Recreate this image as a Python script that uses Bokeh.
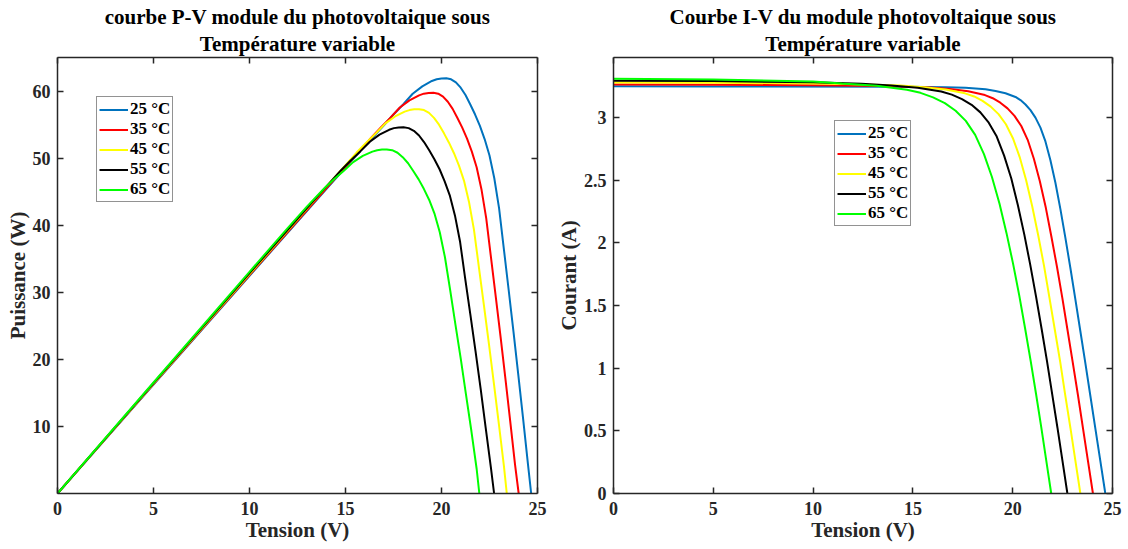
from bokeh.plotting import figure
from bokeh.models import (Legend, LegendItem, LinearAxis, FixedTicker, Range1d, Title,
                          CustomJSTickFormatter)
from bokeh.layouts import row
from bokeh.embed import file_html
from bokeh.resources import INLINE

labels = ["25 °C", "35 °C", "45 °C", "55 °C", "65 °C"]
colors = ["#0072BD", "#FF0000", "#FFFF00", "#000000", "#00FF00"]

# ---- P-V curves (Tension V, Puissance W) ----
pv_v_25 = [0, 5, 10, 14, 16, 17, 17.5, 18, 18.5, 19, 19.5, 19.75, 20, 20.25, 20.5, 20.75, 21, 21.25,
           21.5, 21.75, 22, 22.25, 22.5, 22.75, 23, 23.25, 23.5, 23.75, 24, 24.25, 24.5, 24.67]
pv_p_25 = [0, 16.24, 32.45, 45.4, 51.8, 54.9, 56.5, 58.0, 59.6, 60.7, 61.5, 61.75, 61.87, 61.9, 61.75,
           61.3, 60.5, 59.4, 58.0, 56.5, 54.8, 52.8, 50.4, 47.0, 42.5, 36.4, 30.3, 24.1, 17.7, 11.15, 4.45, 0]
pv_v_35 = [0, 5, 10, 14, 16.33, 16.83, 17.33, 17.83, 18.33, 18.83, 19.08, 19.33, 19.58, 19.83, 20.08,
           20.33, 20.58, 20.83, 21.08, 21.33, 21.58, 21.83, 22.08, 22.33, 22.58, 22.83, 23.08, 23.33,
           23.58, 23.83, 24.02]
pv_p_35 = [0, 16.3, 32.55, 45.5, 53.0, 54.55, 55.99, 57.54, 58.61, 59.36, 59.61, 59.72, 59.75, 59.61,
           59.17, 58.40, 57.34, 55.99, 54.54, 52.90, 50.97, 48.65, 45.37, 41.02, 35.13, 29.25, 23.26,
           17.08, 10.76, 4.30, 0]
pv_v_45 = [0, 5, 10, 14, 15.58, 16.08, 16.58, 17.08, 17.58, 18.08, 18.33, 18.58, 18.83, 19.09, 19.35,
           19.61, 19.87, 20.13, 20.39, 20.65, 20.91, 21.17, 21.43, 21.69, 21.95, 22.21, 22.47, 22.73,
           22.99, 23.25, 23.40]
pv_p_45 = [0, 16.4, 32.7, 45.75, 50.83, 52.31, 53.69, 55.18, 56.21, 56.93, 57.16, 57.27, 57.30, 57.16,
           56.74, 56.00, 54.98, 53.69, 52.30, 50.73, 48.88, 46.65, 43.51, 39.34, 33.69, 28.05, 22.31,
           16.38, 10.32, 4.12, 0]
pv_v_55 = [0, 5, 10, 13, 14, 14.77, 15.27, 15.77, 16.27, 16.77, 17.27, 17.52, 17.77, 18.02, 18.29, 18.56,
           18.83, 19.09, 19.36, 19.63, 19.90, 20.16, 20.43, 20.70, 20.97, 21.23, 21.50, 21.77, 22.04,
           22.30, 22.57, 22.74]
pv_p_55 = [0, 16.45, 32.85, 42.6, 45.75, 48.2, 49.65, 51.0, 52.45, 53.5, 54.22, 54.47, 54.57, 54.6,
           54.47, 54.07, 53.37, 52.39, 51.16, 49.84, 48.34, 46.57, 44.45, 41.46, 37.49, 32.10, 26.73,
           21.26, 15.61, 9.83, 3.93, 0]
pv_v_65 = [0, 5, 10, 12, 13, 13.9, 14.4, 14.9, 15.4, 15.9, 16.4, 16.65, 16.9, 17.15, 17.43, 17.71, 17.98,
           18.26, 18.53, 18.81, 19.08, 19.36, 19.63, 19.91, 20.18, 20.46, 20.73, 21.01, 21.28, 21.56,
           21.83, 21.97]
pv_p_65 = [0, 16.55, 33.05, 39.6, 42.8, 45.5, 46.84, 48.07, 49.40, 50.33, 50.97, 51.18, 51.27, 51.3,
           51.18, 50.80, 50.14, 49.23, 48.07, 46.83, 45.42, 43.76, 41.77, 38.95, 35.22, 30.16, 25.11,
           19.97, 14.67, 9.24, 3.69, 0]

# ---- I-V curves (Tension V, Courant A) ----
iv_v_25 = [0, 5, 14.64, 16.64, 17.64, 18.64, 19.14, 19.64, 20.14, 20.39, 20.64, 20.89, 21.14, 21.39,
           21.64, 21.89, 22.14, 22.39, 22.64, 22.89, 23.14, 23.39, 23.64, 23.89, 24.14, 24.39, 24.64]
iv_i_25 = [3.25, 3.249, 3.247, 3.243, 3.238, 3.226, 3.213, 3.195, 3.165, 3.14, 3.105, 3.06, 3.0, 2.92,
           2.81, 2.66, 2.48, 2.27, 2.04, 1.80, 1.55, 1.295, 1.04, 0.78, 0.52, 0.26, 0]
iv_v_35 = [0, 5, 10, 13.59, 15.86, 16.86, 17.77, 18.61, 19.00, 19.38, 19.74, 20.09, 20.43, 20.75, 21.06,
           21.36, 21.66, 21.94, 22.22, 22.49, 22.75, 23.01, 23.27, 23.52, 23.77, 24.02]
iv_i_35 = [3.265, 3.263, 3.259, 3.253, 3.241, 3.228, 3.210, 3.180, 3.155, 3.119, 3.074, 3.014, 2.933,
           2.823, 2.672, 2.492, 2.280, 2.049, 1.808, 1.557, 1.301, 1.045, 0.784, 0.522, 0.261, 0]
iv_v_45 = [0, 5, 10, 11.59, 14.37, 15.56, 16.64, 17.61, 18.07, 18.49, 18.90, 19.29, 19.66, 20.01, 20.35,
           20.67, 20.98, 21.28, 21.57, 21.84, 22.11, 22.38, 22.63, 22.89, 23.14, 23.39]
iv_i_45 = [3.28, 3.278, 3.273, 3.268, 3.256, 3.243, 3.224, 3.194, 3.169, 3.134, 3.088, 3.028, 2.947,
           2.836, 2.685, 2.503, 2.291, 2.059, 1.817, 1.564, 1.307, 1.050, 0.787, 0.525, 0.262, 0]
iv_v_55 = [0, 5, 10, 12.42, 13.91, 15.24, 16.42, 16.95, 17.46, 17.94, 18.38, 18.80, 19.20, 19.57, 19.93,
           20.26, 20.58, 20.88, 21.17, 21.45, 21.72, 21.98, 22.24, 22.49, 22.74]
iv_i_55 = [3.295, 3.292, 3.282, 3.271, 3.257, 3.239, 3.209, 3.184, 3.148, 3.102, 3.042, 2.960, 2.849,
           2.697, 2.514, 2.301, 2.068, 1.825, 1.571, 1.313, 1.054, 0.791, 0.527, 0.264, 0]
iv_v_65 = [0, 5, 10, 11.44, 13.18, 14.70, 15.38, 16.01, 16.60, 17.14, 17.65, 18.12, 18.56, 18.96, 19.34,
           19.69, 20.02, 20.33, 20.62, 20.90, 21.17, 21.43, 21.68, 21.93]
iv_i_65 = [3.31, 3.305, 3.288, 3.272, 3.254, 3.223, 3.198, 3.162, 3.116, 3.055, 2.974, 2.862, 2.709,
           2.526, 2.312, 2.078, 1.833, 1.579, 1.319, 1.059, 0.794, 0.530, 0.265, 0]

pv_x_ticks = [0, 5, 10, 15, 20, 25]
pv_y_ticks = [10, 20, 30, 40, 50, 60]
iv_x_ticks = [0, 5, 10, 15, 20, 25]
iv_y_ticks = [0, 0.5, 1, 1.5, 2, 2.5, 3]

FONT = "Liberation Serif"
AX = "#262626"


def style_axis(ax, ticks, show_labels=True):
    ax.ticker = FixedTicker(ticks=ticks)
    ax.axis_line_color = AX
    ax.axis_line_width = 1.5
    ax.major_tick_line_color = AX
    ax.major_tick_line_width = 1.5
    ax.major_tick_in = 6
    ax.major_tick_out = 0
    ax.minor_tick_line_color = None
    ax.major_label_text_font = FONT
    ax.major_label_text_font_style = "bold"
    ax.major_label_text_font_size = "18px"
    ax.major_label_text_color = "#262626"
    ax.axis_label_text_font = FONT
    ax.axis_label_text_font_style = "bold"
    ax.axis_label_text_font_size = "21px"
    ax.axis_label_text_color = "#262626"
    if not show_labels:
        ax.formatter = CustomJSTickFormatter(code="return ''")
        ax.major_label_standoff = 0


def make_fig(bl, br, fw, y_max, xt, yt, t1, t2, ylabel, xs, ys, legend_loc):
    p = figure(frame_width=fw, frame_height=436, title=None,
               x_range=Range1d(0, 25), y_range=Range1d(0, y_max),
               output_backend="svg", toolbar_location=None,
               min_border_left=bl, min_border_right=br, min_border_top=57, min_border_bottom=54)
    p.outline_line_color = None
    p.xgrid.visible = False
    p.ygrid.visible = False
    p.background_fill_color = "white"
    p.border_fill_color = "white"
    style_axis(p.xaxis[0], xt)
    style_axis(p.yaxis[0], yt)
    p.xaxis[0].axis_label = "Tension (V)"
    p.xaxis[0].major_label_standoff = 8
    p.xaxis[0].axis_label_standoff = 0
    p.yaxis[0].axis_label = ylabel
    p.yaxis[0].major_label_standoff = 7
    p.yaxis[0].axis_label_standoff = 0
    top = LinearAxis()
    right = LinearAxis()
    style_axis(top, xt, False)
    style_axis(right, yt, False)
    p.add_layout(top, "above")
    p.add_layout(right, "right")
    for txt, so in ((t2, 3), (t1, 0)):
        p.add_layout(Title(text=txt, align="center", text_font=FONT, text_font_style="bold",
                           text_font_size="21px", text_color="#000000", standoff=so), "above")
    items = []
    for x, y, c, lab in zip(xs, ys, colors, labels):
        r = p.line(x, y, line_color=c, line_width=2)
        items.append(LegendItem(label=lab, renderers=[r]))
    leg = Legend(items=items, location=legend_loc, label_text_font=FONT,
                 label_text_font_style="bold", label_text_font_size="17px",
                 label_text_color="#000000", border_line_color=AX, border_line_width=1.5,
                 padding=2, spacing=0, margin=0, label_height=19, glyph_height=19,
                 glyph_width=29, label_standoff=2, background_fill_alpha=1)
    p.add_layout(leg, "center")
    return p


p1 = make_fig(57, 16, 480, 65, pv_x_ticks, pv_y_ticks,
              "courbe P-V module du photovoltaique sous", "Température variable",
              "Puissance (W)",
              [pv_v_25, pv_v_35, pv_v_45, pv_v_55, pv_v_65],
              [pv_p_25, pv_p_35, pv_p_45, pv_p_55, pv_p_65], (39, 291))
p2 = make_fig(56, 10, 499, 3.48, iv_x_ticks, iv_y_ticks,
              "Courbe I-V du module photovoltaique sous", "Température variable",
              "Courant (A)",
              [iv_v_25, iv_v_35, iv_v_45, iv_v_55, iv_v_65],
              [iv_i_25, iv_i_35, iv_i_45, iv_i_55, iv_i_65], (221, 267))

layout = row(p1, p2)
open("out.html", "w").write(file_html(layout, INLINE))
